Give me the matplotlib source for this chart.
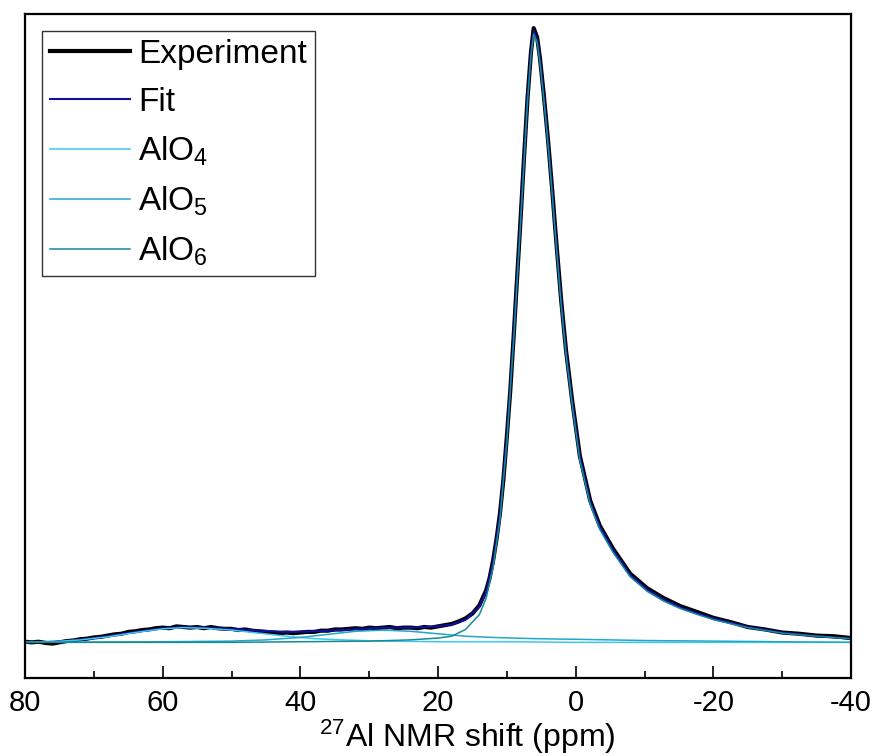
import matplotlib.pyplot as plt
from matplotlib.ticker import MultipleLocator

plt.rcParams['font.family'] = ['Liberation Sans', 'DejaVu Sans']
plt.rcParams['mathtext.default'] = 'regular'
plt.rcParams['axes.unicode_minus'] = False

# --- data (ppm, normalised intensity) ---
exp_ppm = [80, 79, 78, 77, 76, 75, 74, 73, 72, 71, 70, 69, 68, 67, 66, 65, 64, 63, 62, 61,
           60, 59, 58, 57, 56, 55, 54, 53, 52, 51, 50, 49, 48, 47, 46, 45, 44, 43, 42, 41,
           40, 39, 38, 37, 36, 35, 34, 33, 32, 31, 30, 29, 28, 27, 26, 25, 24, 23, 22, 21,
           20, 19, 18, 17, 16, 15, 14, 13, 12.5, 12, 11.5, 11, 10.5, 10, 9.5, 9, 8.5, 8,
           7.5, 7, 6.5, 6.1, 5.6, 5.2, 4.6, 4.0, 3.4, 2.8, 2.1, 1.4, 0.5, -0.6, -2.1, -3.5,
           -5.4, -7.9, -10.4, -12.8, -15.2, -17.5, -20, -22.5, -25, -27.5, -30, -32.5, -35,
           -37.5, -40]
exp_int = [0.001, 0.000, 0.001, -0.001, -0.002, 0.000, 0.002, 0.003, 0.005, 0.006,
           0.008, 0.009, 0.011, 0.013, 0.014, 0.017, 0.018, 0.020, 0.021, 0.023,
           0.024, 0.023, 0.026, 0.025, 0.024, 0.025, 0.023, 0.025, 0.023, 0.022,
           0.022, 0.020, 0.021, 0.019, 0.018, 0.017, 0.016, 0.015, 0.016, 0.015,
           0.016, 0.017, 0.017, 0.019, 0.019, 0.021, 0.021, 0.022, 0.023, 0.022,
           0.024, 0.023, 0.024, 0.025, 0.023, 0.024, 0.024, 0.023, 0.025, 0.024,
           0.026, 0.028, 0.030, 0.034, 0.039, 0.047, 0.060, 0.085, 0.105, 0.133,
           0.168, 0.210, 0.265, 0.335, 0.410, 0.500, 0.595, 0.690,
           0.790, 0.885, 0.960, 1.000, 0.985, 0.952, 0.888, 0.816, 0.735, 0.650,
           0.556, 0.475, 0.393, 0.304, 0.231, 0.190,
           0.153, 0.112, 0.088, 0.072, 0.059, 0.050, 0.040, 0.033, 0.025, 0.021,
           0.016, 0.014, 0.011, 0.010, 0.007]

fit_ppm = [80, 76, 72, 68, 64, 60, 57, 54, 50, 46, 42, 38, 34, 30, 28, 24, 20, 18, 16, 14,
           13, 12, 11, 10, 9, 8, 7, 6.5, 6.1, 5.6, 5.2, 4.6, 4.0, 3.4, 2.8, 2.1, 1.4, 0.5,
           -0.6, -2.1, -3.5, -5.4, -7.9, -10.4, -12.8, -15.2, -17.5, -20, -25, -30, -35, -40]
fit_int = [0.000, 0.001, 0.004, 0.010, 0.017, 0.023, 0.025, 0.024, 0.022, 0.019, 0.017,
           0.018, 0.020, 0.023, 0.024, 0.024, 0.026, 0.029, 0.037, 0.058,
           0.082, 0.130, 0.208, 0.333, 0.500, 0.690, 0.885, 0.960, 0.995, 0.982, 0.950,
           0.886, 0.814, 0.733, 0.648, 0.554, 0.473, 0.391,
           0.302, 0.229, 0.188, 0.151, 0.110, 0.086, 0.070, 0.057, 0.048, 0.039, 0.025,
           0.016, 0.010, 0.006]

alo4_ppm = [80, 76, 72, 68, 64, 60, 57, 54, 50, 46, 42, 38, 34, 28, 20, 10, 0, -20, -40]
alo4_int = [0.000, 0.001, 0.004, 0.009, 0.016, 0.022, 0.024, 0.023, 0.020, 0.015, 0.010,
            0.006, 0.004, 0.002, 0.001, 0.001, 0.000, 0.000, 0.000]

alo5_ppm = [80, 60, 50, 45, 40, 36, 32, 28, 24, 20, 16, 12, 6, 0, -10, -20, -40]
alo5_int = [0.000, 0.001, 0.002, 0.004, 0.008, 0.013, 0.018, 0.020, 0.018, 0.014, 0.010,
            0.008, 0.006, 0.005, 0.003, 0.002, 0.000]

alo6_ppm = [80, 50, 40, 30, 24, 20, 18, 16, 14, 13, 12, 11, 10, 9, 8, 7, 6.5, 6.1, 5.6,
            5.2, 4.6, 4.0, 3.4, 2.8, 2.1, 1.4, 0.5, -0.6, -2.1, -3.5, -5.4, -7.9, -10.4,
            -12.8, -15.2, -17.5, -20, -25, -30, -35, -40]
alo6_int = [0.000, 0.000, 0.001, 0.002, 0.004, 0.007, 0.010, 0.021, 0.045, 0.072, 0.122,
            0.200, 0.326, 0.494, 0.684, 0.880, 0.955, 0.990, 0.977,
            0.945, 0.881, 0.809, 0.728, 0.643, 0.549, 0.468, 0.386, 0.297, 0.225, 0.184,
            0.147, 0.107, 0.083, 0.067, 0.055, 0.046, 0.037, 0.024, 0.015, 0.010, 0.006]

# --- plot ---
fig = plt.figure(figsize=(8.74, 7.56), dpi=100)
ax = fig.add_axes([0.0286, 0.1032, 0.9451, 0.8783])

ax.plot(exp_ppm, exp_int, color='black', lw=3.0, label='Experiment')
ax.plot(fit_ppm, fit_int, color='#1010A0', lw=1.5, label='Fit')
ax.plot(alo4_ppm, alo4_int, color='#3CC8EE', lw=1.1, label='AlO$_4$')
ax.plot(alo5_ppm, alo5_int, color='#20A8C8', lw=1.1, label='AlO$_5$')
ax.plot(alo6_ppm, alo6_int, color='#168A96', lw=1.1, label='AlO$_6$')

ax.set_xlim(80, -40)
ax.set_ylim(-0.058, 1.023)
ax.set_yticks([])
ax.xaxis.set_major_locator(MultipleLocator(20))
ax.xaxis.set_minor_locator(MultipleLocator(10))
ax.tick_params(axis='x', which='major', direction='in', length=9, width=1.2,
               labelsize=21, pad=8, top=False)
ax.tick_params(axis='x', which='minor', direction='in', length=5, width=1.2, top=False)
for s in ax.spines.values():
    s.set_linewidth(1.6)

ax.set_xlabel('$^{27}$Al NMR shift (ppm)', fontsize=23)
ax.xaxis.set_label_coords(0.535, -0.088, transform=ax.transAxes)
ax.xaxis.label.set_va('center')

leg = ax.legend(loc='upper left', fontsize=24, handlelength=2.4, handletextpad=0.25,
                labelspacing=0.5, borderpad=0.25, borderaxespad=0.5,
                fancybox=False, framealpha=1)
leg.get_frame().set_edgecolor('#333333')
leg.get_frame().set_linewidth(1.0)

fig.savefig('out.png', dpi=100)
